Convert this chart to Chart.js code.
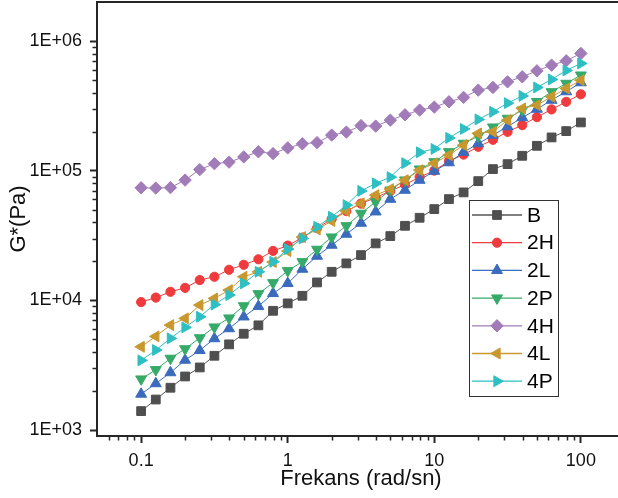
<!DOCTYPE html>
<html><head><meta charset="utf-8">
<script src="https://cdn.jsdelivr.net/npm/chart.js@4.4.0/dist/chart.umd.min.js"></script>
<style>
html,body{margin:0;padding:0;background:#fff;overflow:hidden;}
#wrap{width:640px;height:498px;}
</style></head><body>
<div id="wrap"><canvas id="c" width="640" height="498"></canvas></div>
<script>
// ---- data ----
const freq = [0.1, 0.1259, 0.1585, 0.1995, 0.2512, 0.3162, 0.3981, 0.5012, 0.631, 0.7943,
  1, 1.259, 1.585, 1.995, 2.512, 3.162, 3.981, 5.012, 6.31, 7.943,
  10, 12.59, 15.85, 19.95, 25.12, 31.62, 39.81, 50.12, 63.1, 79.43, 100];
const seriesNames = ['B', '2H', '2L', '2P', '4H', '4L', '4P'];
const gB  = [1400, 1720, 2120, 2590, 3040, 3740, 4580, 5530, 6420, 8310, 9480, 10850, 13760, 16610, 19290, 22350, 27510, 31320, 37590, 43350, 50570, 60390, 68030, 83130, 102900, 112400, 130300, 155600, 180600, 202000, 235700];
const g2H = [9700, 10510, 11650, 12490, 14340, 15210, 17220, 18810, 20750, 24080, 26450, 30500, 36090, 42360, 48810, 55760, 62030, 69600, 78120, 89260, 100200, 118600, 133100, 152900, 173100, 199500, 224700, 259000, 296900, 339900, 388200];
const g2L = [1895, 2283, 2775, 3465, 4117, 5076, 6062, 7471, 9004, 11320, 13520, 17430, 21960, 26700, 32450, 39450, 48210, 60390, 70860, 84640, 99290, 115500, 139100, 161800, 188200, 218800, 256700, 298500, 350300, 407400, 477800];
const g2P = [2473, 2917, 3571, 4228, 5139, 6224, 7303, 9070, 11240, 13670, 16920, 19850, 24730, 30760, 37590, 46870, 57560, 70860, 84640, 102900, 117100, 139900, 162400, 184900, 216900, 253100, 293300, 341100, 405900, 471100, 545800];
const g4H = [73840, 73440, 74090, 84640, 101970, 113400, 116500, 127800, 139900, 135500, 149900, 161300, 164700, 188200, 198500, 222700, 220800, 245500, 269800, 293300, 309300, 339900, 367500, 418200, 438800, 484600, 529700, 589200, 651900, 703800, 802500];
const g4L = [4388, 5278, 6450, 7266, 9201, 10360, 12000, 15210, 16610, 19740, 23990, 30760, 35270, 40880, 48810, 55970, 64850, 72130, 84640, 101100, 114400, 131900, 157500, 193900, 199500, 245500, 302200, 320500, 371400, 430900, 499400];
const g4P = [3446, 4139, 5093, 6191, 7471, 9282, 10990, 13520, 16610, 19850, 24860, 30060, 36940, 44120, 54290, 69860, 79840, 89260, 114400, 138700, 147300, 179000, 210100, 248600, 284600, 332100, 377400, 438800, 505800, 593400, 671900];
const xTickValues = [0.1, 1, 10, 100];
const xTickLabels = ['0.1', '1', '10', '100'];
const yTickValues = [1e3, 1e4, 1e5, 1e6];
const yTickLabels = ['1E+03', '1E+04', '1E+05', '1E+06'];
const xTitle = 'Frekans (rad/sn)';
const yTitle = 'G*(Pa)';

// ---- styles ----
const seriesValues = [gB, g2H, g2L, g2P, g4H, g4L, g4P];
const styles = [
  {color: '#4f4f4f', line: '#555555', pointStyle: 'rect', radius: 6.2, rotation: 0},
  {color: '#ef3b3d', line: '#ef3b3d', pointStyle: 'circle', radius: 4.6, rotation: 0},
  {color: '#3a6bbd', line: '#3a6bbd', pointStyle: 'triangle', radius: 6.3, rotation: 0},
  {color: '#36aa69', line: '#36aa69', pointStyle: 'triangle', radius: 6.3, rotation: 180},
  {color: '#a17cb9', line: '#a17cb9', pointStyle: 'rectRot', radius: 6.2, rotation: 0},
  {color: '#c8982e', line: '#c8982e', pointStyle: 'triangle', radius: 6.3, rotation: 270},
  {color: '#2ebfc3', line: '#2ebfc3', pointStyle: 'triangle', radius: 6.3, rotation: 90}
];
const FONT = "'Liberation Sans', Arial, sans-serif";
const AXIS = '#262626';

const datasets = seriesNames.map((name, i) => ({
  label: name,
  data: freq.map((f, k) => ({x: f, y: seriesValues[i][k]})),
  borderColor: styles[i].line,
  borderWidth: 1,
  backgroundColor: styles[i].color,
  pointBackgroundColor: styles[i].color,
  pointBorderColor: styles[i].color,
  pointBorderWidth: 1,
  pointStyle: styles[i].pointStyle,
  pointRadius: styles[i].radius,
  pointRotation: styles[i].rotation,
  pointHoverRadius: styles[i].radius,
  tension: 0,
  order: seriesNames.length - 1 - i
}));

const framePlugin = {
  id: 'frame',
  afterDraw(chart) {
    const ctx = chart.ctx, ca = chart.chartArea;
    const xs = chart.scales.x, ys = chart.scales.y;
    ctx.save();
    ctx.strokeStyle = AXIS;
    ctx.lineWidth = 2;
    ctx.beginPath();
    ctx.moveTo(ca.left - 1, ca.top);
    ctx.lineTo(ca.right, ca.top);
    ctx.lineTo(ca.right, ca.bottom);
    ctx.stroke();
    // minor ticks
    ctx.lineWidth = 1.5;
    ctx.beginPath();
    for (let d = -2; d <= 2; d++) {
      for (let m = 2; m <= 9; m++) {
        const v = m * Math.pow(10, d);
        if (v <= xs.min * 1.0001 || v >= xs.max * 0.9999) continue;
        const px = Math.round(xs.getPixelForValue(v)) + 0.5;
        ctx.moveTo(px, ca.bottom);
        ctx.lineTo(px, ca.bottom + 4.5);
      }
    }
    for (let d = 2; d <= 6; d++) {
      for (let m = 2; m <= 9; m++) {
        const v = m * Math.pow(10, d);
        if (v <= ys.min * 1.0001 || v >= ys.max * 0.9999) continue;
        const py = Math.round(ys.getPixelForValue(v)) + 0.5;
        ctx.moveTo(ca.left, py);
        ctx.lineTo(ca.left - 4.5, py);
      }
    }
    ctx.stroke();
    ctx.restore();
  }
};

const legendPlugin = {
  id: 'boxLegend',
  afterDatasetsDraw(chart) {
    const ctx = chart.ctx;
    const x0 = 469.5, y0 = 200.5, w = 89, h = 196;
    ctx.save();
    ctx.fillStyle = '#ffffff';
    ctx.fillRect(x0, y0, w, h);
    ctx.strokeStyle = '#333333';
    ctx.lineWidth = 1;
    ctx.strokeRect(x0, y0, w, h);
    chart.data.datasets.forEach((ds, i) => {
      const y = 215 + i * 27.7;
      ctx.strokeStyle = ds.borderColor;
      ctx.lineWidth = 1.3;
      ctx.beginPath();
      ctx.moveTo(472, y);
      ctx.lineTo(522, y);
      ctx.stroke();
      ctx.fillStyle = ds.pointBackgroundColor;
      ctx.strokeStyle = ds.pointBorderColor;
      ctx.lineWidth = 1;
      Chart.helpers.drawPoint(ctx, {pointStyle: ds.pointStyle, radius: ds.pointRadius, rotation: ds.pointRotation, borderWidth: 1}, 497, y);
      ctx.fillStyle = '#000';
      ctx.font = '21px ' + FONT;
      ctx.textBaseline = 'middle';
      ctx.textAlign = 'left';
      ctx.fillText(ds.label, 527, y + 1);
    });
    ctx.restore();
  }
};

new Chart(document.getElementById('c'), {
  type: 'line',
  data: {datasets},
  plugins: [framePlugin, legendPlugin],
  options: {
    responsive: false,
    animation: false,
    devicePixelRatio: 1,
    layout: {autoPadding: false, padding: {left: 0, right: 15, top: 2, bottom: 0}},
    plugins: {legend: {display: false}, tooltip: {enabled: false}},
    scales: {
      x: {
        type: 'logarithmic',
        min: 0.05, max: 200,
        afterBuildTicks: s => { s.ticks = xTickValues.map(v => ({value: v, major: true})); },
        afterFit: s => { s.height = 62; s.paddingLeft = 0; s.paddingRight = 0; },
        ticks: {
          autoSkip: false, maxRotation: 0, padding: 7,
          color: '#111', font: {family: FONT, size: 18},
          callback: (v) => { const i = xTickValues.indexOf(v); return i >= 0 ? xTickLabels[i] : ''; }
        },
        grid: {drawOnChartArea: false, drawTicks: true, tickLength: 7, tickWidth: 2, tickColor: AXIS},
        border: {display: true, color: AXIS, width: 2},
        title: {display: true, text: xTitle, color: '#111', font: {family: FONT, size: 22}, padding: {top: 0, bottom: 6}}
      },
      y: {
        type: 'logarithmic',
        min: 900, max: 2e6,
        afterBuildTicks: s => { s.ticks = yTickValues.map(v => ({value: v, major: true})); },
        afterFit: s => { s.width = 97; s.paddingTop = 0; s.paddingBottom = 0; },
        ticks: {
          autoSkip: false, padding: 8,
          color: '#111', font: {family: FONT, size: 18},
          callback: (v) => { const i = yTickValues.indexOf(v); return i >= 0 ? yTickLabels[i] : ''; }
        },
        grid: {drawOnChartArea: false, drawTicks: true, tickLength: 7, tickWidth: 2, tickColor: AXIS},
        border: {display: true, color: AXIS, width: 2},
        title: {display: true, text: yTitle, color: '#111', font: {family: FONT, size: 22}, padding: {top: 6, bottom: 0}}
      }
    }
  }
});
</script>
</body></html>
